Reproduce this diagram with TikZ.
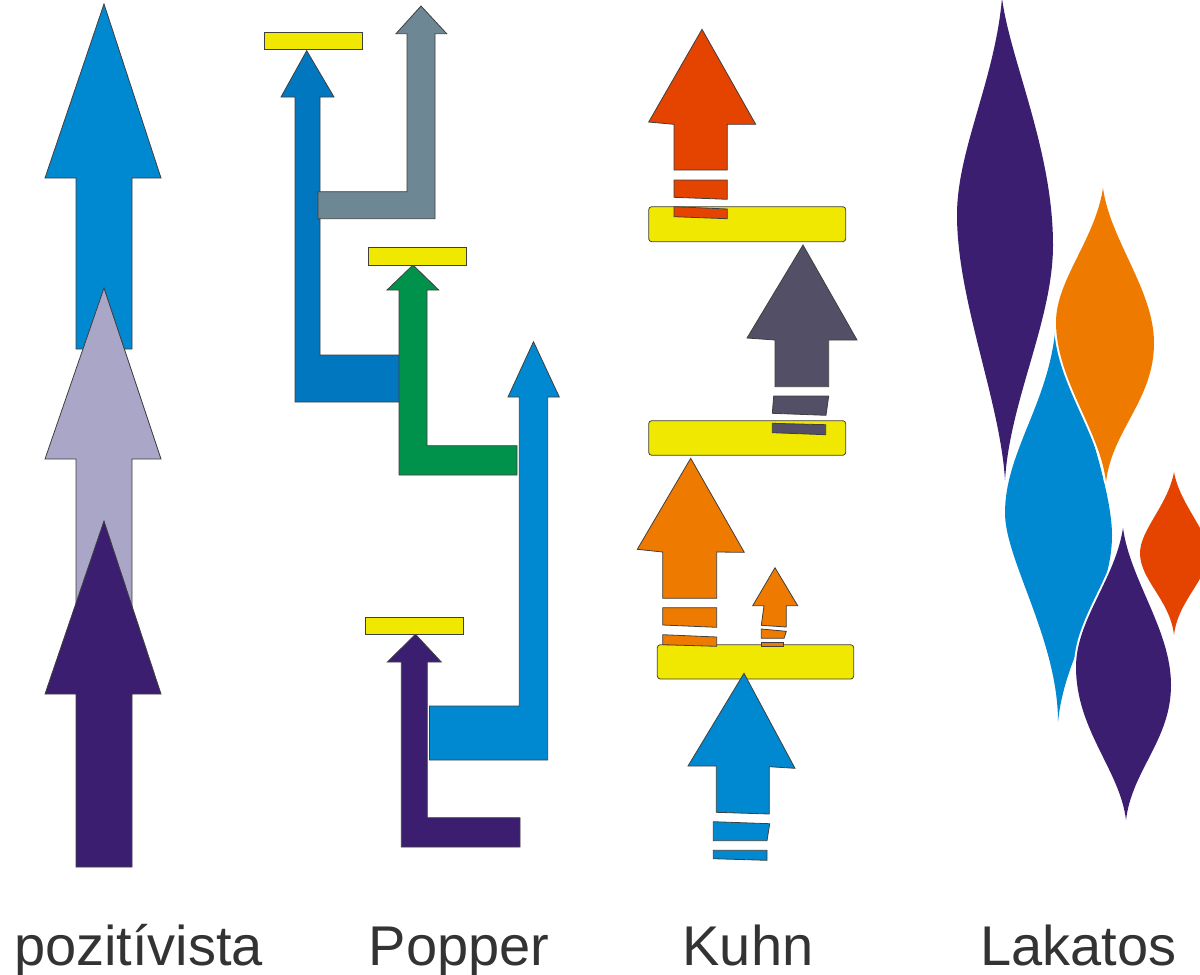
\documentclass[tikz,border=0pt]{standalone}
\usepackage{fontspec}
\setmainfont{Liberation Sans}
\definecolor{edge}{HTML}{3F3F3F}
\definecolor{pzblue}{HTML}{0089D0}
\definecolor{lav}{HTML}{A9A6C8}
\definecolor{purp}{HTML}{3B1E70}
\definecolor{dblue}{HTML}{0077BE}
\definecolor{slate}{HTML}{6E8794}
\definecolor{grn}{HTML}{00924A}
\definecolor{yel}{HTML}{F0E800}
\definecolor{redor}{HTML}{E54300}
\definecolor{dgp}{HTML}{524F66}
\definecolor{orng}{HTML}{EE7B00}
\definecolor{txt}{HTML}{333333}
\begin{document}
\begin{tikzpicture}[x=1pt,y=-1pt,
  shp/.style={draw=edge,line width=0.8pt,line join=miter,fill=#1},
  bar/.style={draw=edge,line width=0.8pt,fill=yel},
  rbar/.style={draw=edge,line width=0.8pt,fill=yel,rounded corners=3pt},
  flame/.style={fill=#1,preaction={draw=white,line width=4pt,line join=round}},
  lbl/.style={anchor=base,inner sep=0pt,text=txt,font=\fontsize{56}{60}\selectfont}]
\useasboundingbox (0,0) rectangle (1200,975);
% ---------- pozitivista ----------
\draw[shp=pzblue] (104,4) -- (161,178) -- (132,178) -- (132,349) -- (76,349) -- (76,178) -- (45,178) -- cycle;
\draw[shp=lav] (104,288) -- (161,459) -- (132,459) -- (132,640) -- (76,640) -- (76,459) -- (45,459) -- cycle;
\draw[shp=purp] (104,521) -- (161,694) -- (132,694) -- (132,867) -- (76,867) -- (76,694) -- (45,694) -- cycle;
% ---------- Popper ----------
\draw[shp=dblue] (306.7,50.7) -- (334,97) -- (320,97) -- (320,355) -- (410,355) -- (410,402) -- (295,402) -- (295,97) -- (281,97) -- cycle;
\draw[shp=slate] (421,6) -- (446.7,33.7) -- (435,33.7) -- (435,218.7) -- (318,218.7) -- (318,191.7) -- (407,191.7) -- (407,33.7) -- (396,33.7) -- cycle;
\draw[bar] (264,32) rectangle (362,49);
\draw[shp=grn] (413,265) -- (438.7,290) -- (427,290) -- (427,445.7) -- (517,445.7) -- (517,475) -- (399,475) -- (399,290) -- (387,290) -- cycle;
\draw[bar] (368,247) rectangle (466,265);
\draw[shp=pzblue] (533.5,341.7) -- (559.3,397) -- (547.7,397) -- (547.7,760) -- (429.5,760) -- (429.5,706) -- (519.3,706) -- (519.3,397) -- (508,397) -- cycle;
\draw[shp=purp] (415.5,634.3) -- (441.3,662) -- (427.3,662) -- (427.3,817.7) -- (520,817.7) -- (520,847) -- (401.3,847) -- (401.3,662) -- (387.3,662) -- cycle;
\draw[bar] (365,617.3) rectangle (463.3,634.3);
% ---------- Kuhn ----------
\draw[shp=redor] (702,29.3) -- (755.7,124.3) -- (727.3,124.3) -- (727.3,170) -- (674,170) -- (674,124.3) -- (648.7,122) -- cycle;
\draw[shp=redor] (674,180) -- (727.3,180) -- (727.3,199.3) -- (674,197.3) -- cycle;
\draw[rbar] (648.7,206.7) rectangle (845.7,241.7);
\draw[shp=redor] (674,206.7) -- (727.3,209) -- (727.3,218.7) -- (674,216.7) -- cycle;
\draw[shp=dgp] (803,245) -- (857,340) -- (828.7,340) -- (828.7,386.7) -- (775,386.7) -- (775,340) -- (747,338) -- cycle;
\draw[shp=dgp] (773.7,396) -- (828.7,396) -- (826,415.3) -- (772.3,413.3) -- cycle;
\draw[rbar] (648.7,420.7) rectangle (845.7,455.3);
\draw[shp=dgp] (772.3,423.3) -- (825.7,424.7) -- (825.7,434.7) -- (772.3,432.7) -- cycle;
\draw[shp=orng] (690.7,458.3) -- (744.3,552.3) -- (716.7,552) -- (716.7,598.3) -- (662.7,598.3) -- (662.7,552) -- (637.3,549.3) -- cycle;
\draw[shp=orng] (662.7,607.7) -- (716.7,607.7) -- (716.7,627.3) -- (662.7,625) -- cycle;
\draw[shp=orng] (775,567.7) -- (797.7,605.7) -- (786.3,605.7) -- (786.3,627) -- (761.3,625.3) -- (764,605.7) -- (752.7,605.7) -- cycle;
\draw[shp=orng] (761.3,629) -- (786.3,631.3) -- (784,638.3) -- (761.3,638.3) -- cycle;
\draw[rbar] (657.3,644.7) rectangle (853.7,679);
\draw[shp=orng] (662.7,634.7) -- (716.7,637) -- (716.7,646.3) -- (662.7,644.7) -- cycle;
\draw[shp=orng] (761.3,642) -- (783.7,642) -- (783.7,646.3) -- (761.3,646.3) -- cycle;
\draw[shp=pzblue] (744,673.3) -- (795,768.3) -- (769.3,766.7) -- (769.3,814) -- (716.3,812.3) -- (716.3,766) -- (688,766) -- cycle;
\draw[shp=pzblue] (713.3,821.7) -- (769.7,823.7) -- (767,840.7) -- (713.3,840.7) -- cycle;
\draw[shp=pzblue] (713.3,850.3) -- (767,850.3) -- (767,860.3) -- (713.3,858.7) -- cycle;
% ---------- Lakatos ----------
\fill[flame=purp] (1002,-2) .. controls (995,80) and (957,150) .. (957,215)
  .. controls (957,300) and (1000,400) .. (1005,480)
  .. controls (1010,400) and (1053,320) .. (1053,245)
  .. controls (1053,150) and (1010,60) .. cycle;
\fill[flame=pzblue] (1056,320) .. controls (1052,400) and (1005,450) .. (1005,513)
  .. controls (1005,560) and (1058,640) .. (1058,722)
  .. controls (1065,650) and (1112,600) .. (1112,535)
  .. controls (1112,480) and (1065,360) .. cycle;
\fill[flame=orng] (1103,188) .. controls (1095,240) and (1056,280) .. (1056,322)
  .. controls (1056,380) and (1100,430) .. (1106,482)
  .. controls (1112,430) and (1154,400) .. (1154,343)
  .. controls (1154,290) and (1110,240) .. cycle;
\fill[flame=purp] (1123,528) .. controls (1115,580) and (1076,620) .. (1076,667)
  .. controls (1076,730) and (1120,770) .. (1126,820)
  .. controls (1132,770) and (1171,740) .. (1171,685)
  .. controls (1171,630) and (1130,580) .. cycle;
\fill[flame=redor] (1174,472) .. controls (1168,505) and (1140,530) .. (1140,553)
  .. controls (1140,580) and (1170,600) .. (1174,635)
  .. controls (1178,600) and (1208,580) .. (1208,553)
  .. controls (1208,530) and (1180,505) .. cycle;
% ---------- labels ----------
\node[lbl] (lpoz) at (138.5,965) {pozitívista};
\node[lbl] (lpop) at (459,965) {Popper};
\node[lbl] (lkuhn) at (748,965) {Kuhn};
\node[lbl] (llak) at (1078.5,965) {Lakatos};
\end{tikzpicture}
\end{document}
